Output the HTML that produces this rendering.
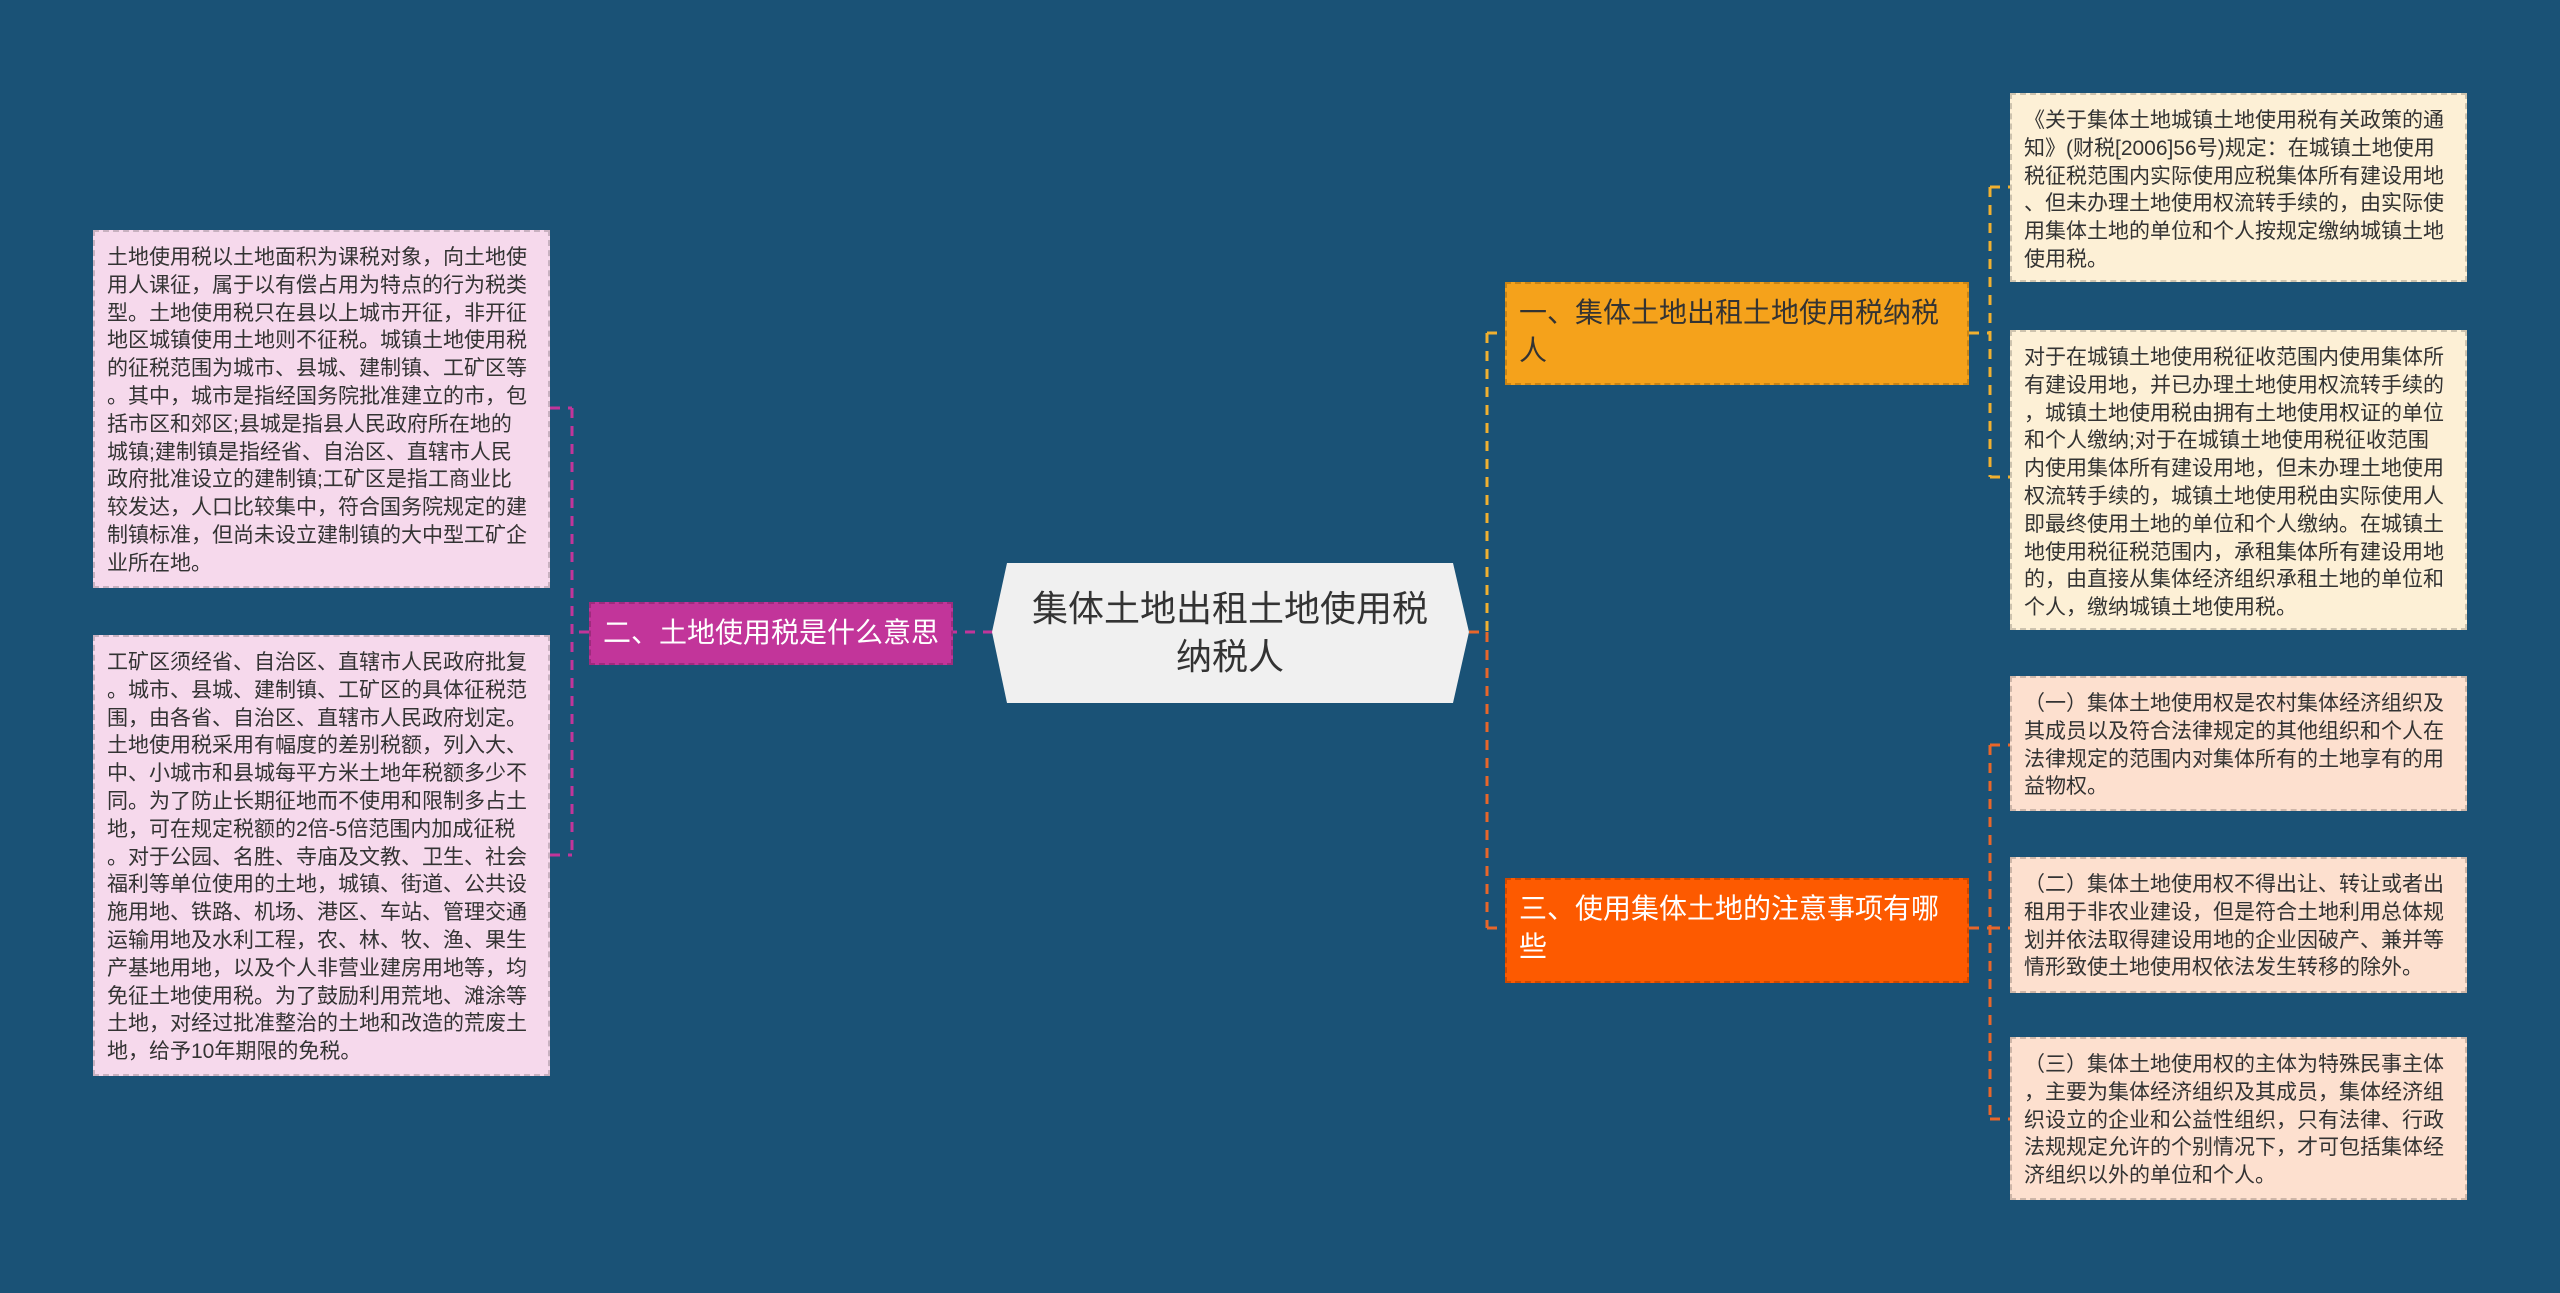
<!DOCTYPE html>
<html><head><meta charset="utf-8"><style>
body{margin:0;width:2560px;height:1293px;background:#1a5276;position:relative;overflow:hidden;font-family:"Liberation Sans","Noto Sans CJK SC",sans-serif}
.b{position:absolute;box-sizing:border-box;border:2px dashed rgba(0,0,0,0.18)}
.leaf{font-size:21px;line-height:27.8px;padding:12px 18px 10px 12px;color:#333;word-break:break-all;line-break:anywhere}
.lp{background:#f6d9ec}
.ly{background:#fdf0d6}
.lo{background:#fde0cf}
.br{font-size:28px;line-height:38px;padding:10px 12px;color:#fff;line-break:anywhere}
</style></head><body>
<svg width="2560" height="1293" style="position:absolute;left:0;top:0">
<g fill="none" stroke-width="3" stroke-dasharray="10,8">
<path d="M993 632 H953" stroke="#c2359a"/>
<path d="M589 632 H572 M572 408 V855 M550 408 H572 M550 855 H572" stroke="#c2359a"/>
<path d="M1469 632 H1487" stroke="#e8662a"/>
<path d="M1487 333 V632" stroke="#f0b030"/>
<path d="M1487 632 V928" stroke="#e8662a"/>
<path d="M1487 333 H1505" stroke="#f0b030"/>
<path d="M1487 928 H1505" stroke="#e8662a"/>
<path d="M1969 333 H1990 M1990 187 V477 M1990 187 H2010 M1990 477 H2010" stroke="#f0b030"/>
<path d="M1969 928 H1990 M1990 745 V1119 M1990 745 H2010 M1990 928 H2010 M1990 1119 H2010" stroke="#e8662a"/>
</g>
<polygon points="992,632 1007,563 1453,563 1469,632 1453,703 1007,703" fill="#f0f0f0"/>
</svg>
<div style="position:absolute;left:1007px;top:563px;width:446px;height:140px;display:flex;align-items:center;justify-content:center;text-align:center;font-size:36px;line-height:48px;color:#333">集体土地出租土地使用税<br>纳税人</div>

<div class="b leaf lp" style="left:93px;top:230px;width:457px;height:358px">土地使用税以土地面积为课税对象，向土地使用人课征，属于以有偿占用为特点的行为税类型。土地使用税只在县以上城市开征，非开征地区城镇使用土地则不征税。城镇土地使用税的征税范围为城市、县城、建制镇、工矿区等。其中，城市是指经国务院批准建立的市，包括市区和郊区;县城是指县人民政府所在地的城镇;建制镇是指经省、自治区、直辖市人民政府批准设立的建制镇;工矿区是指工商业比较发达，人口比较集中，符合国务院规定的建制镇标准，但尚未设立建制镇的大中型工矿企业所在地。</div>
<div class="b leaf lp" style="left:93px;top:635px;width:457px;height:441px">工矿区须经省、自治区、直辖市人民政府批复。城市、县城、建制镇、工矿区的具体征税范围，由各省、自治区、直辖市人民政府划定。土地使用税采用有幅度的差别税额，列入大、中、小城市和县城每平方米土地年税额多少不同。为了防止长期征地而不使用和限制多占土地，可在规定税额的2倍-5倍范围内加成征税。对于公园、名胜、寺庙及文教、卫生、社会福利等单位使用的土地，城镇、街道、公共设施用地、铁路、机场、港区、车站、管理交通运输用地及水利工程，农、林、牧、渔、果生产基地用地，以及个人非营业建房用地等，均免征土地使用税。为了鼓励利用荒地、滩涂等土地，对经过批准整治的土地和改造的荒废土地，给予10年期限的免税。</div>

<div class="b br" style="left:589px;top:602px;width:364px;height:63px;background:#c2359a;padding:10px 8px 0 12px;white-space:nowrap">二、土地使用税是什么意思</div>
<div class="b br" style="left:1505px;top:282px;width:464px;height:103px;background:#f5a21b;color:#333">一、集体土地出租土地使用税纳税人</div>
<div class="b br" style="left:1505px;top:878px;width:464px;height:105px;background:#fd5a00">三、使用集体土地的注意事项有哪些</div>

<div class="b leaf ly" style="left:2010px;top:93px;width:457px;height:189px">《关于集体土地城镇土地使用税有关政策的通知》(财税[2006]56号)规定：在城镇土地使用税征税范围内实际使用应税集体所有建设用地、但未办理土地使用权流转手续的，由实际使用集体土地的单位和个人按规定缴纳城镇土地使用税。</div>
<div class="b leaf ly" style="left:2010px;top:330px;width:457px;height:300px">对于在城镇土地使用税征收范围内使用集体所有建设用地，并已办理土地使用权流转手续的，城镇土地使用税由拥有土地使用权证的单位和个人缴纳;对于在城镇土地使用税征收范围内使用集体所有建设用地，但未办理土地使用权流转手续的，城镇土地使用税由实际使用人即最终使用土地的单位和个人缴纳。在城镇土地使用税征税范围内，承租集体所有建设用地的，由直接从集体经济组织承租土地的单位和个人，缴纳城镇土地使用税。</div>
<div class="b leaf lo" style="left:2010px;top:676px;width:457px;height:135px">（一）集体土地使用权是农村集体经济组织及其成员以及符合法律规定的其他组织和个人在法律规定的范围内对集体所有的土地享有的用益物权。</div>
<div class="b leaf lo" style="left:2010px;top:857px;width:457px;height:136px">（二）集体土地使用权不得出让、转让或者出租用于非农业建设，但是符合土地利用总体规划并依法取得建设用地的企业因破产、兼并等情形致使土地使用权依法发生转移的除外。</div>
<div class="b leaf lo" style="left:2010px;top:1037px;width:457px;height:163px">（三）集体土地使用权的主体为特殊民事主体，主要为集体经济组织及其成员，集体经济组织设立的企业和公益性组织，只有法律、行政法规规定允许的个别情况下，才可包括集体经济组织以外的单位和个人。</div>
</body></html>
